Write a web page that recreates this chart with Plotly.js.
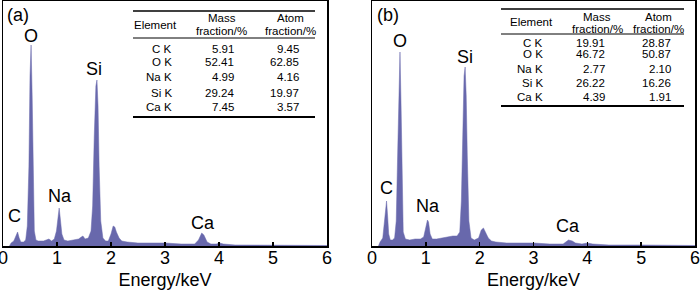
<!DOCTYPE html>
<html>
<head>
<meta charset="utf-8">
<script src="https://cdn.plot.ly/plotly-3.0.1.min.js"></script>
<style>
html,body{margin:0;padding:0;background:#fff;}
#chart{width:700px;height:290px;}
</style>
</head>
<body>
<div id="chart"></div>
<script>
// ---------- DATA ----------
// Spectrum (a): energy (keV) and counts (arbitrary units)
const energyA = [0.12,0.15,0.20,0.24,0.27,0.30,0.33,0.38,0.42,0.45,0.48,0.50,0.52,0.54,0.56,0.58,0.61,0.65,0.70,0.75,0.80,0.85,0.90,0.95,0.99,1.02,1.04,1.06,1.09,1.13,1.20,1.30,1.40,1.45,1.48,1.52,1.58,1.63,1.66,1.69,1.72,1.74,1.76,1.78,1.81,1.85,1.90,1.95,2.00,2.04,2.07,2.10,2.15,2.20,2.30,2.50,2.80,3.00,3.30,3.55,3.62,3.68,3.72,3.78,3.85,3.95,4.01,4.08,4.30,4.60,5.00,5.50,5.80,6.00];
const countsA = [0,3,5,10,14,8,4,4,6,20,80,170,201,150,60,15,6,5,5,5,6,7,5,7,15,33,38,28,12,6,5,6,7,9,10,7,8,15,40,110,160,166,140,80,25,8,5,5,12,20,19,14,8,5,4,3,3,3,2,2,6,13,11,4,2,2,3,2,1,1,1,1,0.5,0.5];

// Spectrum (b)
const energyB = [0.12,0.15,0.20,0.23,0.25,0.27,0.29,0.31,0.34,0.38,0.42,0.45,0.48,0.50,0.52,0.54,0.56,0.58,0.62,0.70,0.80,0.90,0.96,1.00,1.03,1.05,1.08,1.12,1.20,1.30,1.40,1.50,1.58,1.63,1.66,1.69,1.71,1.73,1.75,1.77,1.80,1.84,1.90,1.98,2.03,2.07,2.11,2.16,2.22,2.30,2.50,2.80,3.00,3.30,3.55,3.60,3.65,3.72,3.78,3.90,4.00,4.10,4.40,5.00,6.00];
const countsB = [0,4,8,25,40,45,30,12,6,6,8,25,100,170,194,140,55,14,7,6,7,7,9,18,26,24,12,7,7,8,9,10,10,14,45,120,170,179,150,90,25,8,6,8,16,18,14,8,5,4,3,3,3,2,2,4,6,5,3,2,3,2,1,1,0.5];

// Peak labels
const peakNames = ['O','Si','Na','C','Ca'];
const peakEA = [0.52,1.69,1.06,0.22,3.70];
const peakYA = [210,177,50,30,23];
const peakEB = [0.52,1.72,1.04,0.26,3.65];
const peakYB = [205,189,40,58,20];

// Tables
const elements = ['C K','O K','Na K','Si K','Ca K'];
const massA = ['5.91','52.41','4.99','29.24','7.45'];
const atomA = ['9.45','62.85','4.16','19.97','3.57'];
const massB = ['19.91','46.72','2.77','26.22','4.39'];
const atomB = ['28.87','50.87','2.10','16.26','1.91'];
const headerTop = ['Element','Mass','Atom'];
const headerBottom = ['','fraction/%','fraction/%'];
const xTicks = [0,1,2,3,4,5,6];

// ---------- LAYOUT HELPERS ----------
const W = 700, H = 290;
const px = v => v / W;
const py = v => 1 - v / H;
const FONT = 'Liberation Sans, Arial, sans-serif';
const FILL = 'rgb(104,104,172)';

const traces = [
  {x: energyA, y: countsA, type:'scatter', mode:'lines', fill:'tozeroy',
   line:{color:FILL, width:0.5}, fillcolor:FILL, xaxis:'x', yaxis:'y', hoverinfo:'skip'},
  {x: energyB, y: countsB, type:'scatter', mode:'lines', fill:'tozeroy',
   line:{color:FILL, width:0.5}, fillcolor:FILL, xaxis:'x2', yaxis:'y2', hoverinfo:'skip'}
];

function xax(domain, anchor){
  return {domain: domain, anchor: anchor, range:[0,6], tickvals:xTicks, ticktext:xTicks.map(String),
    ticks:'inside', ticklen:4, tickwidth:1.5, tickcolor:'#000',
    ticklabeloverflow:'allow', ticklabelstandoff:-5,
    showline:true, mirror:true, linecolor:'#000', linewidth:1.5,
    showgrid:false, zeroline:false, fixedrange:true,
    tickfont:{family:FONT, size:18, color:'#000'},
    title:{text:'Energy/keV', font:{family:FONT, size:18, color:'#000'}, standoff:6}};
}
function yax(anchor){
  return {domain:[py(246), py(1)], anchor: anchor, range:[0,245],
    showline:true, mirror:true, linecolor:'#000', linewidth:1.5,
    showticklabels:false, ticks:'', showgrid:false, zeroline:false, fixedrange:true};
}

const annotations = [];
const shapes = [];

function addPeakLabels(xref, yref, es, ys){
  peakNames.forEach((n,i)=>{
    annotations.push({x:es[i], y:ys[i], xref:xref, yref:yref, text:n, showarrow:false,
      xanchor:'center', yanchor:'middle', font:{family:FONT, size:18, color:'#000'}});
  });
}
addPeakLabels('x','y',peakEA,peakYA);
addPeakLabels('x2','y2',peakEB,peakYB);

annotations.push({x:px(17.5), y:py(15), xref:'paper', yref:'paper', text:'(a)', showarrow:false,
  xanchor:'center', yanchor:'middle', font:{family:FONT, size:18, color:'#000'}});
annotations.push({x:px(387.5), y:py(15), xref:'paper', yref:'paper', text:'(b)', showarrow:false,
  xanchor:'center', yanchor:'middle', font:{family:FONT, size:18, color:'#000'}});

function addTable(t){
  const f = {family:FONT, size:11.5, color:'#000'};
  shapes.push({type:'line', xref:'paper', yref:'paper', x0:px(t.x0), x1:px(t.x1), y0:py(t.top), y1:py(t.top), line:{color:'#000', width:1.6}});
  shapes.push({type:'line', xref:'paper', yref:'paper', x0:px(t.x0), x1:px(t.x1), y0:py(t.mid), y1:py(t.mid), line:{color:'#000', width:1}});
  shapes.push({type:'line', xref:'paper', yref:'paper', x0:px(t.x0), x1:px(t.x1), y0:py(t.bot), y1:py(t.bot), line:{color:'#000', width:1.8}});
  headerTop.forEach((h,i)=>{
    const single = headerBottom[i] === '';
    annotations.push({x:px(t.hx[i]), y:py(single ? t.hy[2] : t.hy[0]), xref:'paper', yref:'paper', text:h, showarrow:false,
      xanchor:'center', yanchor:'middle', font:f});
    if(!single){
      annotations.push({x:px(t.hx[i]), y:py(t.hy[1]), xref:'paper', yref:'paper', text:headerBottom[i], showarrow:false,
        xanchor:'center', yanchor:'middle', font:f});
    }
  });
  elements.forEach((e,i)=>{
    const cols = [e, t.mass[i], t.atom[i]];
    cols.forEach((c,j)=>{
      annotations.push({x:px(t.cx[j]), y:py(t.ry[i]), xref:'paper', yref:'paper', text:c, showarrow:false,
        xanchor:'right', yanchor:'middle', font:f});
    });
  });
}
addTable({x0:133, x1:315, top:11, mid:38, bot:117, hx:[155,222,290], hy:[18,31,25],
  cx:[174,236,301], ry:[49,62,77.5,92.5,107], mass:massA, atom:atomA});
addTable({x0:501, x1:684, top:9, mid:34, bot:106, hx:[531,597,658], hy:[17,28.5,22],
  cx:[545,607,673], ry:[42.5,54.5,69,83,97], mass:massB, atom:atomB});

const layout = {
  width:W, height:H, margin:{l:0,r:0,t:0,b:0},
  paper_bgcolor:'#fff', plot_bgcolor:'#fff', showlegend:false,
  xaxis: xax([px(3), px(327)], 'y'),
  yaxis: yax('x'),
  xaxis2: xax([px(372), px(695)], 'y2'),
  yaxis2: yax('x2'),
  annotations: annotations, shapes: shapes
};

Plotly.newPlot('chart', traces, layout, {staticPlot:true, displayModeBar:false});
</script>
</body>
</html>
